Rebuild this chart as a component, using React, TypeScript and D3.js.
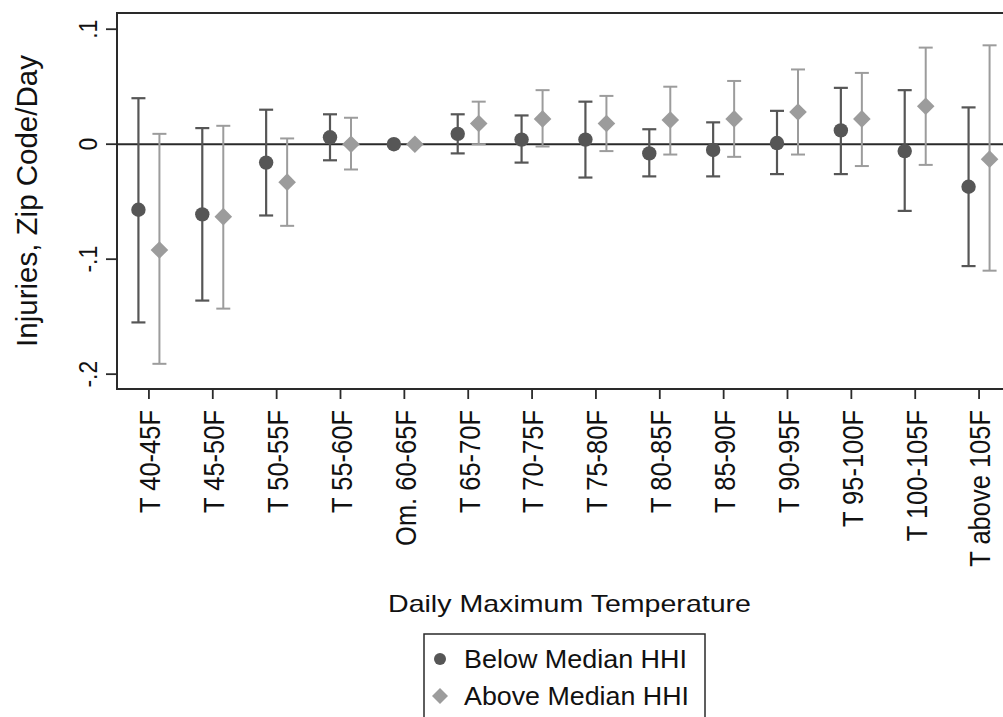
import React from "react";
import * as d3 from "d3";

const categories = [
  "T 40-45F", "T 45-50F", "T 50-55F", "T 55-60F", "Om. 60-65F", "T 65-70F", "T 70-75F",
  "T 75-80F", "T 80-85F", "T 85-90F", "T 90-95F", "T 95-100F", "T 100-105F", "T above 105F",
];

const belowEst = [-0.057, -0.061, -0.016, 0.006, 0, 0.009, 0.004, 0.004, -0.008, -0.005, 0.001, 0.012, -0.006, -0.037];
const belowLo = [-0.155, -0.136, -0.062, -0.014, 0, -0.008, -0.016, -0.029, -0.028, -0.028, -0.026, -0.026, -0.058, -0.106];
const belowHi = [0.040, 0.014, 0.030, 0.026, 0, 0.026, 0.025, 0.037, 0.013, 0.019, 0.029, 0.049, 0.047, 0.032];

const aboveEst = [-0.092, -0.063, -0.033, 0.0, 0, 0.018, 0.022, 0.018, 0.021, 0.022, 0.028, 0.022, 0.033, -0.013];
const aboveLo = [-0.191, -0.143, -0.071, -0.022, 0, 0.0, -0.002, -0.006, -0.009, -0.011, -0.009, -0.019, -0.018, -0.110];
const aboveHi = [0.009, 0.016, 0.005, 0.023, 0, 0.037, 0.047, 0.042, 0.050, 0.055, 0.065, 0.062, 0.084, 0.086];

const yTicks = [0.1, 0, -0.1, -0.2];
const yTickLabels = [".1", "0", "-.1", "-.2"];

const seriesNames = ["Below Median HHI", "Above Median HHI"];

const W = 1003;
const H = 717;
const plotLeft = 117;
const plotTop = 13;
const plotBottom = 389;
const plotRight = 1011;

const DARK = "#565656";
const LIGHT = "#9c9c9c";
const AXIS = "#2a2a2a";
const FONT = "'Liberation Sans', Arial, Helvetica, sans-serif";

export default function App() {
  const x = d3.scaleLinear().domain([-0.5, categories.length - 0.5]).range([plotLeft, plotRight]);
  const y = d3.scaleLinear().domain([0.1141, -0.2129]).range([plotTop, plotBottom]);
  const off = 10.5;
  const cap = 7;
  const diamond = d3.symbol().type(d3.symbolDiamond2 || d3.symbolSquare).size(2 * 8.5 * 8.5);

  const series = [
    { est: belowEst, lo: belowLo, hi: belowHi, color: DARK, dx: -off, shape: "circle", sw: 2.2 },
    { est: aboveEst, lo: aboveLo, hi: aboveHi, color: LIGHT, dx: off, shape: "diamond", sw: 2 },
  ];

  const diamondPath = (cx: number, cy: number, h: number) =>
    `M${cx},${cy - h}L${cx + h},${cy}L${cx},${cy + h}L${cx - h},${cy}Z`;

  return (
    <svg
      width={W}
      height={H}
      style={{ position: "absolute", left: 0, top: 0, background: "#fff" }}
      fontFamily={FONT}
    >
      <rect x={0} y={0} width={W} height={H} fill="#fff" />
      {/* zero line */}
      <line x1={plotLeft} x2={plotRight} y1={y(0)} y2={y(0)} stroke={AXIS} strokeWidth={2} />

      {/* error bars */}
      {series.map((s, si) =>
        categories.map((c, i) => {
          if (s.lo[i] === s.hi[i]) return null;
          const cx = x(i) + s.dx;
          return (
            <g key={`e${si}-${i}`} stroke={s.color} strokeWidth={s.sw} fill="none">
              <line x1={cx} x2={cx} y1={y(s.hi[i])} y2={y(s.lo[i])} />
              <line x1={cx - cap} x2={cx + cap} y1={y(s.hi[i])} y2={y(s.hi[i])} />
              <line x1={cx - cap} x2={cx + cap} y1={y(s.lo[i])} y2={y(s.lo[i])} />
            </g>
          );
        })
      )}

      {/* markers */}
      {series.map((s, si) =>
        categories.map((c, i) => {
          const cx = x(i) + s.dx;
          const cy = y(s.est[i]);
          return s.shape === "circle" ? (
            <circle key={`m${si}-${i}`} cx={cx} cy={cy} r={7.2} fill={s.color} />
          ) : (
            <path key={`m${si}-${i}`} d={diamondPath(cx, cy, 8.8)} fill={s.color} />
          );
        })
      )}

      {/* frame */}
      <rect
        x={plotLeft}
        y={plotTop}
        width={plotRight - plotLeft}
        height={plotBottom - plotTop}
        fill="none"
        stroke={AXIS}
        strokeWidth={2}
      />

      {/* y ticks */}
      {yTicks.map((t, i) => (
        <g key={`yt${i}`}>
          <line x1={plotLeft - 11} x2={plotLeft} y1={y(t)} y2={y(t)} stroke={AXIS} strokeWidth={1.8} />
          <text
            transform={`translate(87.5,${y(t)}) scale(1.12,1) rotate(-90)`}
            textAnchor="middle"
            dy="0.36em"
            fontSize={23}
            fill="#111"
          >
            {yTickLabels[i]}
          </text>
        </g>
      ))}

      {/* x ticks */}
      {categories.map((c, i) => (
        <g key={`xt${i}`}>
          <line x1={x(i)} x2={x(i)} y1={plotBottom} y2={plotBottom + 10} stroke={AXIS} strokeWidth={1.8} />
          <text
            transform={`translate(${x(i) + 1},${plotBottom + 21}) scale(1.13,1) rotate(-90)`}
            textAnchor="end"
            dy="0.36em"
            fontSize={25.5}
            fill="#111"
          >
            {c}
          </text>
        </g>
      ))}

      {/* axis titles */}
      <text transform={`translate(37,201) rotate(-90)`} textAnchor="middle" fontSize={29.5} fill="#111">
        Injuries, Zip Code/Day
      </text>
      <text
        x={388}
        y={612}
        fontSize={24}
        fill="#111"
        textLength={363}
        lengthAdjust="spacingAndGlyphs"
      >
        Daily Maximum Temperature
      </text>

      {/* legend */}
      <rect x={424} y={634} width={281} height={110} fill="#fff" stroke={AXIS} strokeWidth={1.5} />
      <circle cx={440} cy={659} r={6} fill={DARK} />
      <path d={diamondPath(440, 696, 8)} fill={LIGHT} />
      <text x={464} y={668} fontSize={26} fill="#111" textLength={223} lengthAdjust="spacingAndGlyphs">
        {seriesNames[0]}
      </text>
      <text x={464} y={705} fontSize={26} fill="#111" textLength={225} lengthAdjust="spacingAndGlyphs">
        {seriesNames[1]}
      </text>
    </svg>
  );
}
